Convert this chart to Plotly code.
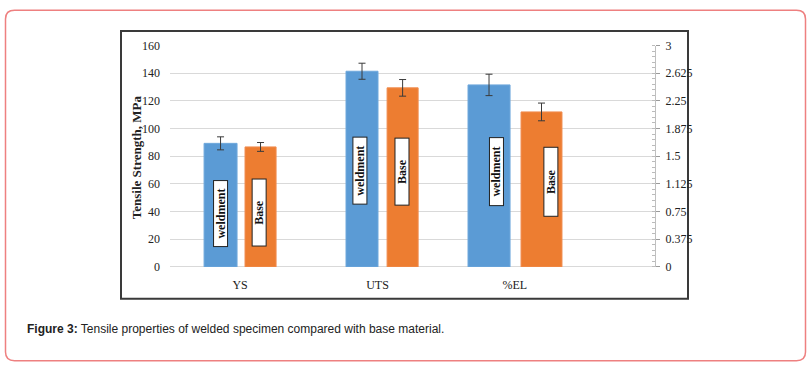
import plotly.graph_objects as go

W, H = 810, 375

# ---------------- data ----------------
categories = ["YS", "UTS", "%EL"]
strength_categories = ["YS", "UTS"]
weldment_strength = [89.3, 141.4]
weldment_strength_err = [4.7, 5.8]
base_strength = [86.7, 129.4]
base_strength_err = [3.2, 6.0]
weldment_el = [2.466]
weldment_el_err = [0.145]
base_el = [2.10]
base_el_err = [0.12]
left_ticks = [0, 20, 40, 60, 80, 100, 120, 140, 160]
right_ticks = [0, 0.375, 0.75, 1.125, 1.5, 1.875, 2.25, 2.625, 3]
right_tick_labels = ["0", "0.375", "0.75", "1.125", "1.5", "1.875", "2.25", "2.625", "3"]
series_names = ["weldment", "Base"]

BLUE = "#5b9bd5"
ORANGE = "#ed7d31"
SERIF = "Liberation Serif, Times New Roman, serif"

def px(x):
    return x / W

def py(y):
    return 1 - y / H

err_style = dict(type="data", thickness=1, width=3.5, color="#3a3a3a")

fig = go.Figure()
fig.add_trace(go.Bar(
    x=strength_categories, y=weldment_strength, name=series_names[0],
    marker=dict(color=BLUE, line=dict(color="#6fa8dc", width=1)),
    offset=[-0.262, -0.229], width=[0.24, 0.233],
    error_y=dict(array=weldment_strength_err, **err_style), yaxis="y"))
fig.add_trace(go.Bar(
    x=strength_categories, y=base_strength, name=series_names[1],
    marker=dict(color=ORANGE, line=dict(color="#f08c4f", width=1)),
    offset=[0.036, 0.07], width=[0.226, 0.226],
    error_y=dict(array=base_strength_err, **err_style), yaxis="y"))
fig.add_trace(go.Bar(
    x=["%EL"], y=weldment_el, name=series_names[0],
    marker=dict(color=BLUE, line=dict(color="#6fa8dc", width=1)),
    offset=[-0.341], width=[0.306],
    error_y=dict(array=weldment_el_err, **err_style), yaxis="y2"))
fig.add_trace(go.Bar(
    x=["%EL"], y=base_el, name=series_names[1],
    marker=dict(color=ORANGE, line=dict(color="#f08c4f", width=1)),
    offset=[0.045], width=[0.298],
    error_y=dict(array=base_el_err, **err_style), yaxis="y2"))

# in-bar labels (x in category index units, y in axis units)
labels = [
    (series_names[0], -0.142, 38.6, "y", 65),
    (series_names[1], 0.142, 39.0, "y", 66),
    (series_names[0], 0.873, 69.6, "y", 66),
    (series_names[1], 1.179, 68.9, "y", 66),
    (series_names[0], 1.863, 1.285, "y2", 67),
    (series_names[1], 2.26, 1.148, "y2", 68),
]
annotations = []
for txt, xv, yv, yref, hh in labels:
    annotations.append(dict(
        x=xv, y=yv, xref="x", yref=yref, text=txt, showarrow=False,
        textangle=-90, width=hh, height=13,
        font=dict(family=SERIF, size=12, color="#111", weight="bold"),
        bgcolor="white", bordercolor="#222", borderwidth=1, borderpad=0))

# caption
annotations.append(dict(
    x=px(25), y=py(335), xref="paper", yref="paper", xanchor="left", yanchor="middle",
    text="<b>Figure 3:</b> Tensile properties of welded specimen compared with base material.",
    showarrow=False, font=dict(family="Liberation Sans, Arial, sans-serif", size=12, color="#222")))

# y-axis title
annotations.append(dict(
    x=px(136), y=py(156), xref="paper", yref="paper", xanchor="center", yanchor="middle",
    text="Tensile Strength, MPa", textangle=-90, showarrow=False,
    font=dict(family=SERIF, size=13, color="#222", weight="bold")))

# outer rounded border
x0, x1, y0, y1 = px(5.5), px(805.5), py(3.5), py(367.5)
rx, ry = 9 / W, 9 / H
path = (f"M {x0+rx},{y0} L {x1-rx},{y0} Q {x1},{y0} {x1},{y0-ry} "
        f"L {x1},{y1+ry} Q {x1},{y1} {x1-rx},{y1} L {x0+rx},{y1} "
        f"Q {x0},{y1} {x0},{y1+ry} L {x0},{y0-ry} Q {x0},{y0} {x0+rx},{y0} Z")
shapes = [
    dict(type="path", path=path, xref="paper", yref="paper",
         line=dict(color="#ee8080", width=1.5), layer="below"),
    dict(type="rect", xref="paper", yref="paper",
         x0=px(121), x1=px(688), y0=py(25), y1=py(303),
         line=dict(color="#3a3a3a", width=2), layer="below"),
]

fig.update_layout(
    width=W, height=H,
    margin=dict(l=0, r=0, t=0, b=0),
    paper_bgcolor="white", plot_bgcolor="white",
    barmode="overlay", showlegend=False,
    annotations=annotations, shapes=shapes,
    xaxis=dict(
        domain=[px(170), px(655)], type="category",
        categoryorder="array", categoryarray=categories,
        range=[-0.51, 3.02], showgrid=False, showline=False, zeroline=False,
        ticks="", ticklabelstandoff=9,
        tickfont=dict(family=SERIF, size=12, color="#222")),
    yaxis=dict(
        domain=[py(270), py(40)], range=[0, 160], tickvals=left_ticks,
        showgrid=True, gridcolor="#d9d9d9", gridwidth=1,
        zeroline=True, zerolinecolor="#d9d9d9", zerolinewidth=1,
        showline=False, ticks="", ticklabelstandoff=9,
        tickfont=dict(family=SERIF, size=12, color="#222")),
    yaxis2=dict(
        overlaying="y", side="right", anchor="x", range=[0, 3],
        tickvals=right_ticks, ticktext=right_tick_labels,
        showgrid=False, zeroline=False, showline=True, linecolor="#bfbfbf", linewidth=1,
        ticks="outside", ticklen=4, tickcolor="#9a9a9a",
        minor=dict(ticks="inside", ticklen=3, tickcolor="#bbbbbb", dtick=0.075),
        ticklabelstandoff=3,
        tickfont=dict(family=SERIF, size=12, color="#222")),
)

fig.write_html(
    "out.html",
    config={"displayModeBar": False},
    post_script="document.body.style.margin='0';document.body.style.overflow='hidden';",
)
